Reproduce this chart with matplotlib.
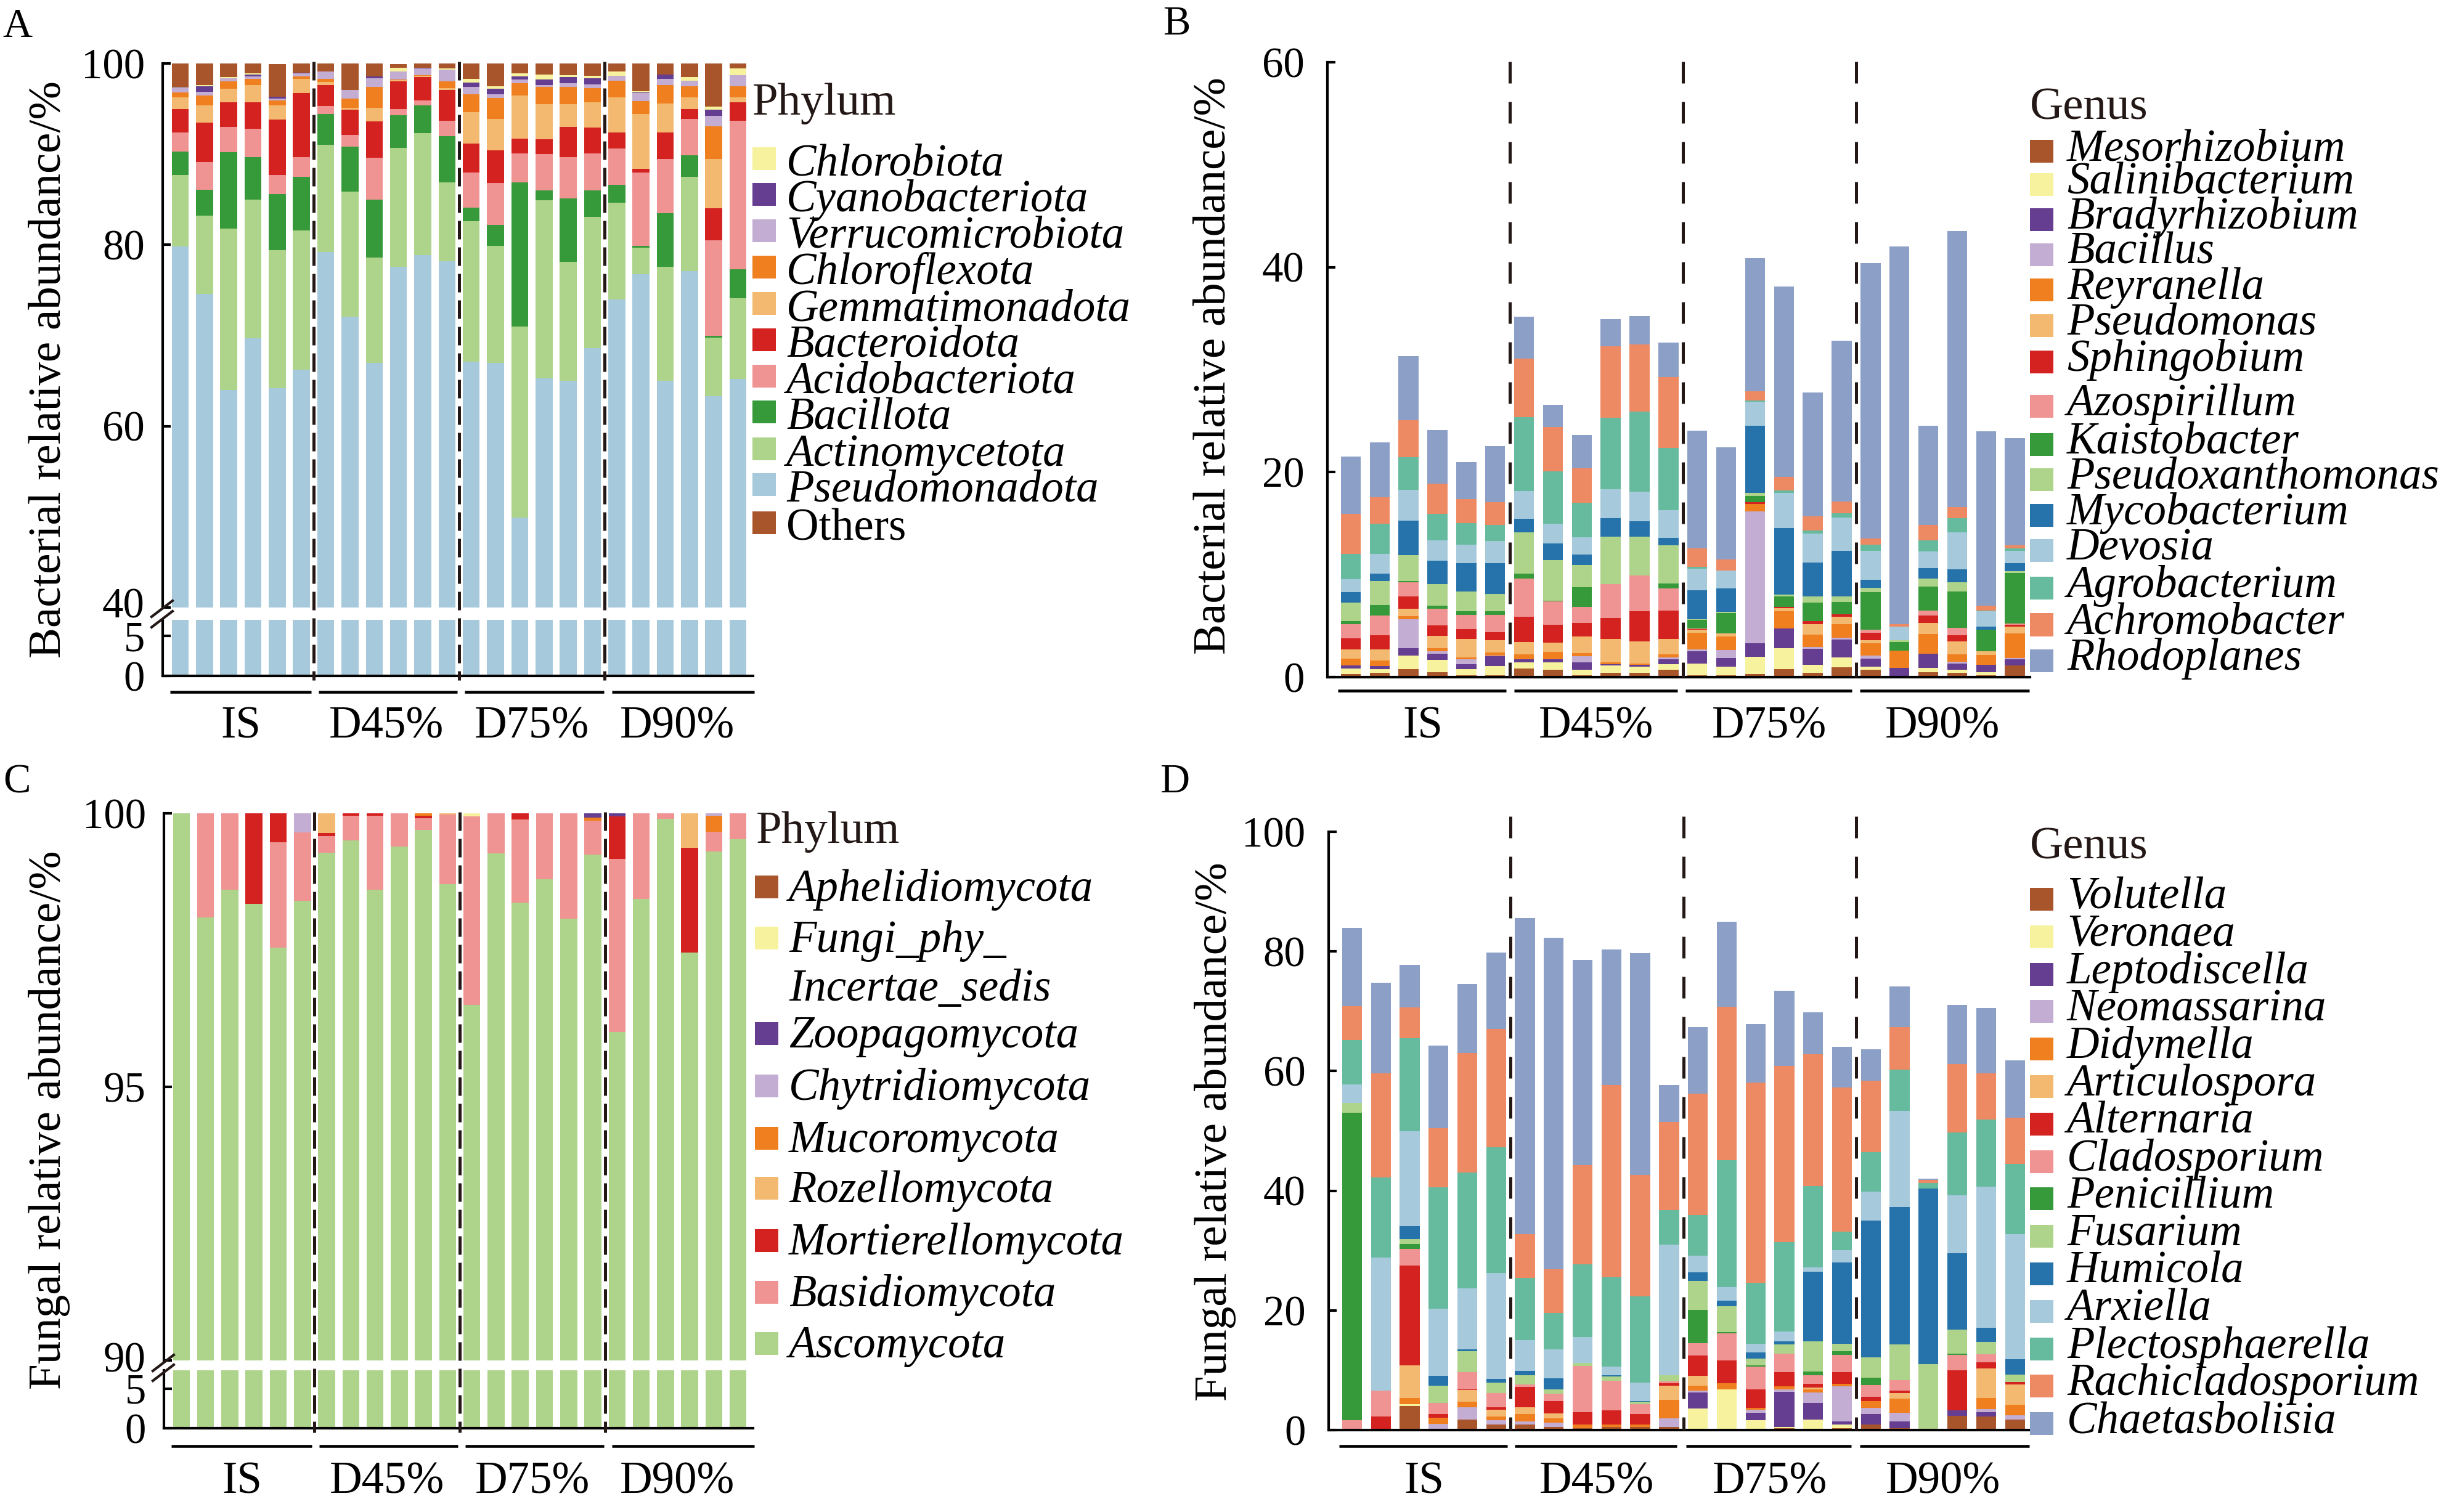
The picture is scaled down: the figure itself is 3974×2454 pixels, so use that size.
import numpy as np
import matplotlib
matplotlib.use('Agg')
import matplotlib.pyplot as plt
from matplotlib.lines import Line2D
from matplotlib.patches import Rectangle
import matplotlib.transforms as mtransforms

plt.rcParams['font.family'] = ['Liberation Serif', 'DejaVu Serif']

# ---------------- data ----------------
groups = ['IS', 'D45%', 'D75%', 'D90%']
n_bars = 24

# A: bacterial phyla (%), stacked bottom -> top
a_pseudomonadota = [79.8, 74.6, 64.0, 69.7, 64.2, 66.2, 79.2, 72.1, 67.0, 77.6, 78.9, 78.2,
                    67.1, 67.0, 49.9, 65.3, 65.0, 68.6, 74.0, 76.75, 65.0, 77.1, 63.3, 65.2]
a_actinomycetota = [7.9, 8.6, 17.8, 15.3, 15.2, 15.4, 11.8, 13.8, 11.6, 13.1, 13.4, 8.7,
                    15.5, 12.9, 21.1, 19.6, 13.1, 14.5, 10.65, 2.95, 12.6, 10.4, 6.45, 8.9]
a_bacillota = [2.6, 2.9, 8.4, 4.7, 6.2, 5.9, 3.4, 4.9, 6.4, 3.6, 3.1, 5.1,
               1.5, 2.3, 15.9, 1.1, 7.0, 2.9, 1.95, 0.2, 5.9, 2.35, 0.25, 3.2]
a_acidobacteriota = [2.1, 3.0, 2.8, 3.1, 2.1, 2.2, 0.9, 1.3, 4.6, 0.65, 0.5, 1.7,
                     3.85, 4.6, 3.2, 4.0, 4.6, 4.1, 4.05, 8.1, 6.0, 4.05, 10.5, 16.4]
a_bacteroidota = [2.6, 4.4, 2.7, 2.9, 6.1, 7.05, 2.3, 2.8, 4.0, 3.1, 2.6, 3.4,
                  3.25, 3.6, 1.6, 1.65, 3.3, 2.8, 1.75, 0.35, 2.9, 1.05, 3.5, 2.0]
a_gemmatimonadota = [1.25, 1.9, 1.5, 1.9, 1.55, 1.55, 0.35, 0.2, 1.5, 0.1, 0.15, 0.2,
                     3.4, 3.5, 4.8, 3.85, 2.5, 2.8, 3.85, 6.1, 3.2, 1.3, 5.5, 0.55]
a_chloroflexota = [0.55, 1.1, 0.8, 0.7, 0.55, 0.25, 0.35, 1.0, 2.3, 0.1, 0.05, 0.7,
                   2.0, 2.3, 1.3, 1.9, 1.9, 1.6, 1.85, 1.4, 2.05, 1.25, 3.6, 1.25]
a_verrucomicrobiota = [0.5, 0.4, 0.4, 0.3, 0.2, 0.35, 0.8, 1.0, 1.0, 0.9, 0.75, 1.3,
                       0.8, 0.4, 0.4, 0.25, 0.4, 0.4, 0.55, 0.9, 0.65, 0.6, 1.1, 1.2]
a_cyanobacteriota = [0.05, 0.6, 0.0, 0.2, 0.2, 0.1, 0.0, 0.0, 0.2, 0.0, 0.05, 0.0,
                     0.5, 0.6, 0.35, 0.55, 0.7, 0.7, 0.0, 0.05, 0.45, 0.0, 0.7, 0.0]
a_chlorobiota = [0.1, 0.1, 0.1, 0.1, 0.0, 0.0, 0.0, 0.0, 0.0, 0.35, 0.05, 0.15,
                 0.4, 0.3, 0.35, 0.6, 0.2, 0.25, 0.45, 0.15, 0.0, 0.4, 0.35, 0.75]
a_others = [2.6, 2.4, 1.5, 1.1, 3.6, 1.0, 0.9, 2.9, 1.4, 0.45, 0.6, 0.55,
            1.7, 2.5, 1.1, 1.2, 1.3, 1.35, 0.9, 3.1, 1.25, 1.5, 4.75, 0.55]

# B: bacterial genera (%), stacked bottom -> top
b_mesorhizobium = [0.3, 0.4, 0.8, 0.5, 0.2, 0.2, 0.85, 0.7, 0.2, 0.45, 0.45, 0.7,
                   0.2, 0.2, 0.3, 0.8, 0.45, 0.95, 0.7, 0.1, 0.5, 0.4, 0.2, 1.15]
b_salinibacterium = [0.55, 0.4, 1.3, 1.2, 0.6, 0.9, 0.6, 0.75, 0.5, 0.7, 0.6, 0.55,
                     1.1, 0.85, 1.7, 2.05, 0.75, 1.0, 0.3, 0.0, 0.4, 0.3, 0.3, 0.0]
b_bradyrhizobium = [0.3, 0.3, 0.7, 0.6, 0.45, 0.95, 0.3, 0.3, 0.75, 0.1, 0.15, 0.5,
                    1.2, 0.8, 1.3, 1.9, 1.55, 1.7, 0.8, 0.8, 1.4, 0.6, 0.7, 0.6]
b_bacillus = [0.0, 0.0, 2.85, 0.2, 0.5, 0.05, 0.0, 0.0, 0.6, 0.0, 0.0, 0.2,
              0.2, 0.8, 12.85, 0.0, 0.2, 0.2, 0.3, 0.0, 0.0, 0.2, 0.0, 0.1]
b_reyranella = [0.65, 0.5, 0.3, 0.3, 0.2, 0.3, 0.5, 0.7, 0.3, 0.2, 0.1, 0.3,
                1.6, 1.3, 0.75, 1.7, 1.2, 1.35, 1.2, 1.7, 1.9, 0.7, 0.95, 2.4]
b_pseudomonas = [0.9, 1.1, 0.7, 1.25, 1.8, 1.2, 1.2, 0.9, 1.6, 2.3, 2.2, 1.45,
                 0.3, 0.3, 0.0, 0.3, 1.0, 0.7, 0.3, 0.0, 1.1, 1.3, 0.4, 0.65]
b_sphingobium = [1.1, 1.4, 1.25, 1.0, 0.95, 0.8, 2.45, 1.75, 1.35, 2.0, 2.95, 2.8,
                 0.1, 0.0, 0.2, 0.1, 0.3, 0.25, 0.7, 0.0, 0.7, 0.6, 0.0, 0.2]
b_azospirillum = [1.4, 1.9, 1.35, 1.6, 1.4, 1.7, 3.7, 2.3, 1.55, 3.3, 3.45, 2.15,
                  0.05, 0.0, 0.0, 0.0, 0.05, 0.0, 0.3, 0.0, 0.5, 0.7, 0.0, 0.15]
b_kaistobacter = [0.3, 1.05, 0.15, 0.35, 0.35, 0.35, 0.5, 0.05, 1.95, 0.05, 0.0, 0.5,
                  0.85, 2.0, 0.6, 1.0, 1.8, 1.2, 3.7, 0.85, 2.35, 3.55, 2.1, 4.9]
b_pseudoxanthomonas = [1.8, 2.3, 2.5, 2.05, 1.9, 1.65, 4.05, 4.0, 2.15, 4.6, 3.8, 3.7,
                       0.05, 0.1, 0.25, 0.2, 0.6, 0.5, 0.4, 0.15, 0.75, 0.9, 0.0, 0.2]
b_mycobacterium = [1.0, 0.75, 3.4, 2.3, 2.8, 3.0, 1.3, 1.6, 1.0, 1.8, 1.5, 0.75,
                   2.8, 2.3, 6.55, 6.5, 3.3, 4.45, 0.8, 0.0, 1.05, 1.25, 0.3, 0.75]
b_devosia = [1.25, 1.9, 2.95, 2.0, 1.8, 2.2, 2.7, 1.95, 1.7, 2.85, 2.9, 2.7,
             2.15, 1.75, 2.4, 3.4, 2.8, 3.3, 2.8, 1.35, 1.6, 3.6, 1.5, 1.2]
b_agrobacterium = [2.5, 2.95, 3.2, 2.6, 2.1, 1.55, 7.25, 5.1, 3.35, 6.95, 7.8, 6.05,
                   0.15, 0.0, 0.1, 0.25, 0.3, 0.4, 0.6, 0.0, 1.1, 1.4, 0.05, 0.25]
b_achromobacter = [3.9, 2.6, 3.65, 2.9, 2.3, 2.25, 5.7, 4.3, 3.4, 7.0, 6.55, 6.95,
                   1.8, 1.1, 0.9, 1.35, 1.4, 1.15, 0.6, 0.2, 1.5, 1.1, 0.5, 0.3]
b_rhodoplanes = [5.6, 5.35, 6.25, 5.25, 3.65, 5.45, 4.1, 2.2, 3.25, 2.6, 2.8, 3.35,
                 11.5, 10.9, 13.0, 18.55, 12.05, 15.7, 26.9, 36.9, 9.65, 26.95, 17.0, 10.5]

# C: fungal phyla (%), stacked bottom -> top
c_ascomycota = [100.0, 98.1, 98.6, 98.35, 97.55, 98.4, 99.28, 99.5, 98.6, 99.39, 99.7, 98.7,
                96.5, 99.27, 98.37, 98.79, 98.07, 99.25, 96.0, 98.43, 99.9, 97.45, 99.3, 99.53]
c_basidiomycota = [0.0, 1.9, 1.4, 0.0, 1.92, 1.25, 0.3, 0.45, 1.35, 0.61, 0.21, 1.28,
                   3.44, 0.73, 1.52, 1.21, 1.93, 0.62, 3.17, 1.57, 0.1, 0.0, 0.36, 0.47]
c_mortierellomycota = [0, 0, 0, 1.65, 0.53, 0, 0.06, 0.05, 0.05, 0, 0.05, 0,
                       0, 0, 0.11, 0, 0, 0, 0.77, 0, 0, 1.92, 0, 0]
c_rozellomycota = [0, 0, 0, 0, 0, 0, 0.36, 0, 0, 0, 0, 0.02,
                   0, 0, 0, 0, 0, 0, 0, 0, 0, 0.63, 0, 0]
c_mucoromycota = [0, 0, 0, 0, 0, 0, 0, 0, 0, 0, 0.04, 0,
                  0, 0, 0, 0, 0, 0.05, 0, 0, 0, 0, 0.29, 0]
c_chytridiomycota = [0, 0, 0, 0, 0, 0.35, 0, 0, 0, 0, 0, 0,
                     0, 0, 0, 0, 0, 0, 0, 0, 0, 0, 0.05, 0]
c_zoopagomycota = [0, 0, 0, 0, 0, 0, 0, 0, 0, 0, 0, 0,
                   0, 0, 0, 0, 0, 0.08, 0.06, 0, 0, 0, 0, 0]
c_incertae = [0, 0, 0, 0, 0, 0, 0, 0, 0, 0, 0, 0,
              0.06, 0, 0, 0, 0, 0, 0, 0, 0, 0, 0, 0]
c_aphelidiomycota = [0] * 24

# D: fungal genera (%), stacked bottom -> top
d_volutella = [0, 0.2, 4.0, 0, 1.7, 0.9, 0.9, 0.55, 0.35, 0.55, 0.55, 0.55,
               0, 0, 0, 0.35, 0, 0.35, 0.9, 0.35, 0, 2.4, 2.3, 1.75]
d_veronaea = [0, 0, 0.35, 0, 0, 0, 0, 0, 0, 0, 0, 0,
              3.65, 6.75, 1.6, 0.2, 1.8, 0.55, 0, 0, 0, 0, 0, 0]
d_leptodiscella = [0, 0, 0, 0, 0, 0, 0, 0, 0, 0, 0, 0,
                   2.6, 0, 1.25, 5.85, 2.7, 0.5, 1.75, 1.1, 0, 0.9, 0.7, 0]
d_neomassarina = [0, 0, 0, 1.05, 2.1, 0.7, 0.55, 0.7, 0, 0, 0, 1.4,
                  0.3, 0, 0.5, 0.35, 1.8, 5.95, 1.05, 1.45, 0, 0, 0.55, 0.7]
d_didymella = [0, 0, 1.05, 1.05, 0.9, 0.7, 1.2, 0.7, 0.55, 0.35, 0.35, 3.1,
               0.9, 1.05, 0.35, 0.55, 0.5, 0.35, 1.15, 2.4, 0, 0, 1.85, 1.75]
d_articulospora = [0, 0, 5.4, 0, 1.95, 1.15, 1.15, 0.85, 0, 0, 0, 2.4,
                   1.6, 0, 0, 0, 0.35, 0, 0, 0.9, 0, 0, 4.85, 3.45]
d_alternaria = [0, 2.05, 16.7, 0.55, 0.1, 0.35, 3.45, 2.05, 2.05, 2.4, 1.75, 0.35,
                3.4, 3.8, 3.1, 2.4, 0.55, 2.0, 0.7, 0.35, 0, 6.7, 1.05, 0.4]
d_cladosporium = [1.6, 4.35, 2.75, 1.85, 2.9, 2.4, 0.35, 1.25, 7.8, 4.95, 1.7, 0.35,
                  2.05, 4.6, 3.8, 3.1, 1.5, 2.85, 1.95, 1.75, 0, 2.6, 1.4, 0]
d_penicillium = [51.45, 0, 0.9, 0, 0, 0, 0, 0, 0, 0, 0, 0,
                 5.6, 0.2, 0.2, 0, 0.55, 0.6, 1.25, 0, 0, 0.2, 0, 0]
d_fusarium = [1.6, 0, 0.8, 2.95, 3.5, 1.75, 1.6, 0.7, 0.5, 0.75, 0.35, 1.05,
              4.85, 4.35, 1.15, 1.5, 5.1, 1.25, 3.4, 6.0, 11.05, 3.95, 2.05, 1.2]
d_humicola = [0, 0, 2.1, 1.6, 0.3, 0.55, 0.7, 1.85, 0, 0.15, 0.15, 0,
              1.4, 0.85, 1.05, 0.5, 11.6, 13.65, 22.85, 22.95, 29.35, 12.8, 2.3, 2.6]
d_arxiella = [3.1, 22.25, 15.9, 11.2, 10.2, 17.8, 5.15, 4.85, 4.3, 1.5, 3.1, 21.75,
              2.75, 2.3, 1.4, 1.7, 0.7, 2.05, 4.85, 16.1, 0, 9.65, 23.6, 20.85]
d_plectosphaerella = [7.45, 13.4, 15.55, 20.35, 19.35, 21.0, 10.35, 6.1, 12.15, 14.85, 14.35, 5.85,
                      6.85, 21.2, 10.2, 14.9, 13.65, 3.05, 6.55, 6.9, 0.9, 10.5, 11.25, 11.75]
d_rachicladosporium = [5.65, 17.35, 5.2, 9.9, 20.0, 19.75, 7.4, 7.25, 16.55, 32.2, 20.35, 14.7,
                       20.25, 25.7, 33.5, 29.5, 22.0, 24.15, 12.0, 7.1, 0.5, 11.45, 7.75, 7.75]
d_chaetasbolisia = [13.05, 15.2, 7.05, 13.8, 11.55, 12.8, 52.8, 55.45, 34.3, 22.6, 37.1, 6.2,
                    11.2, 14.15, 9.8, 12.5, 7.0, 6.75, 5.2, 6.75, 0.2, 9.95, 10.85, 9.55]

# ---------------- colours ----------------
BROWN, YELLOW, PURPLE, LAV = '#A9552B', '#F6F29E', '#653D91', '#C3ADD3'
ORANGE, LORANGE, RED, PINK = '#EF7F1F', '#F3B970', '#D42221', '#EF9393'
GREEN, LGREEN, BLUE, LBLUE = '#379A3A', '#AED38A', '#2673AB', '#A6CADC'
TEAL, SALMON, SLATE = '#66BA9E', '#EE8A63', '#8B9FC7'
INK = '#231815'

a_names = ['Pseudomonadota', 'Actinomycetota', 'Bacillota', 'Acidobacteriota', 'Bacteroidota',
           'Gemmatimonadota', 'Chloroflexota', 'Verrucomicrobiota', 'Cyanobacteriota',
           'Chlorobiota', 'Others']
a_series = [a_pseudomonadota, a_actinomycetota, a_bacillota, a_acidobacteriota, a_bacteroidota,
            a_gemmatimonadota, a_chloroflexota, a_verrucomicrobiota, a_cyanobacteriota,
            a_chlorobiota, a_others]
a_colors = [LBLUE, LGREEN, GREEN, PINK, RED, LORANGE, ORANGE, LAV, PURPLE, YELLOW, BROWN]

b_names = ['Mesorhizobium', 'Salinibacterium', 'Bradyrhizobium', 'Bacillus', 'Reyranella',
           'Pseudomonas', 'Sphingobium', 'Azospirillum', 'Kaistobacter', 'Pseudoxanthomonas',
           'Mycobacterium', 'Devosia', 'Agrobacterium', 'Achromobacter', 'Rhodoplanes']
b_series = [b_mesorhizobium, b_salinibacterium, b_bradyrhizobium, b_bacillus, b_reyranella,
            b_pseudomonas, b_sphingobium, b_azospirillum, b_kaistobacter, b_pseudoxanthomonas,
            b_mycobacterium, b_devosia, b_agrobacterium, b_achromobacter, b_rhodoplanes]
genus_colors = [BROWN, YELLOW, PURPLE, LAV, ORANGE, LORANGE, RED, PINK, GREEN, LGREEN,
                BLUE, LBLUE, TEAL, SALMON, SLATE]

c_names = ['Ascomycota', 'Basidiomycota', 'Mortierellomycota', 'Rozellomycota', 'Mucoromycota',
           'Chytridiomycota', 'Zoopagomycota', 'Fungi_phy_Incertae_sedis', 'Aphelidiomycota']
c_series = [c_ascomycota, c_basidiomycota, c_mortierellomycota, c_rozellomycota, c_mucoromycota,
            c_chytridiomycota, c_zoopagomycota, c_incertae, c_aphelidiomycota]
c_colors = [LGREEN, PINK, RED, LORANGE, ORANGE, LAV, PURPLE, YELLOW, BROWN]

d_names = ['Volutella', 'Veronaea', 'Leptodiscella', 'Neomassarina', 'Didymella', 'Articulospora',
           'Alternaria', 'Cladosporium', 'Penicillium', 'Fusarium', 'Humicola', 'Arxiella',
           'Plectosphaerella', 'Rachicladosporium', 'Chaetasbolisia']
d_series = [d_volutella, d_veronaea, d_leptodiscella, d_neomassarina, d_didymella, d_articulospora,
            d_alternaria, d_cladosporium, d_penicillium, d_fusarium, d_humicola, d_arxiella,
            d_plectosphaerella, d_rachicladosporium, d_chaetasbolisia]

# ---------------- figure ----------------
W, H = 3974, 2454
fig = plt.figure(figsize=(W / 300, H / 300), dpi=300)


def fx(px):
    return px / W


def fy(py):
    return 1 - py / H


def box(x0, y0, x1, y1):
    return fig.add_axes([fx(x0), fy(y1), (x1 - x0) / W, (y1 - y0) / H])


x = np.arange(n_bars)


def stack(ax, series, cols, width):
    bottom = np.zeros(n_bars)
    for vals, c in zip(series, cols):
        vals = np.array(vals, dtype=float)
        ax.bar(x, vals, bottom=bottom, width=width, color=c, linewidth=0)
        bottom += vals


def style(ax, xlim, ylim, yticks, bottom=True, pad=7):
    ax.set_xlim(*xlim)
    ax.set_ylim(*ylim)
    ax.set_facecolor('none')
    for s in ['top', 'right']:
        ax.spines[s].set_visible(False)
    ax.spines['left'].set_linewidth(1.0)
    ax.spines['bottom'].set_linewidth(1.0)
    ax.spines['bottom'].set_visible(bottom)
    ax.set_xticks([])
    ax.set_yticks(yticks)
    ax.set_yticklabels([str(t) for t in yticks])
    ax.tick_params(axis='y', direction='in', length=3, width=1.0, labelsize=16.5,
                   pad=pad, colors='black')


def lift_first_label(ax, px):
    # nudge the lowest tick label of a broken axis upward, as in the original
    lab = ax.get_yticklabels()[0]
    lab.set_transform(lab.get_transform() +
                      mtransforms.ScaledTranslation(0, px / 300, fig.dpi_scale_trans))


def fig_line(xs, ys, **kw):
    fig.add_artist(Line2D([fx(v) for v in xs], [fy(v) for v in ys],
                          transform=fig.transFigure, color=INK, **kw))


def dashes(ax, y_top, y_bot, pattern):
    tr = mtransforms.blended_transform_factory(ax.transData, fig.transFigure)
    for xb in [5.5, 11.5, 17.5]:
        fig.add_artist(Line2D([xb, xb], [fy(y_top), fy(y_bot)], transform=tr, color=INK,
                              lw=1.2, linestyle=(0, pattern)))


def group_labels(ax, y_line, y_lab, segs):
    tr = mtransforms.blended_transform_factory(ax.transData, fig.transFigure)
    for (s0, s1) in segs:
        fig.add_artist(Line2D([s0, s1], [fy(y_line), fy(y_line)], transform=tr,
                              color='black', lw=1.1, solid_capstyle='butt'))
    for i, g in enumerate(groups):
        ax.text(2.5 + 6 * i, fy(y_lab), g, transform=tr, fontsize=17.5,
                ha='center', va='center')


def legend(title, title_xy, names, cols, sq_x, txt_x, sq_tops, base_off, italic_flags):
    fig.text(fx(title_xy[0]), fy(title_xy[1]), title, fontsize=18, color=INK,
             ha='left', va='baseline')
    for name, c, top, it in zip(names, cols, sq_tops, italic_flags):
        fig.add_artist(Rectangle((fx(sq_x), fy(top + 37)), 38 / W, 37 / H,
                                 transform=fig.transFigure, facecolor=c, edgecolor='none'))
        fig.text(fx(txt_x), fy(top + base_off), name, fontsize=17.5,
                 fontstyle='italic' if it else 'normal', ha='left', va='baseline')


def break_marks(x0, y_a, y_b):
    for yy in (y_a, y_b):
        fig_line([x0 - 18, x0 + 16], [yy + 13, yy - 13], lw=1.0)


# ---------- panel A ----------
xlim_ac = (-0.724, 23.62)
axA = box(264, 103, 1222, 986)
axA_low = box(264, 1006, 1222, 1097)
for ax in (axA, axA_low):
    stack(ax, a_series, a_colors, 0.7)
style(axA, xlim_ac, (40, 100), [40, 60, 80, 100], bottom=False)
style(axA_low, xlim_ac, (0, 7), [0, 5])
lift_first_label(axA, 8)
dashes(axA, 100, 1104, (6, 2.6))
break_marks(264, 988, 1005)
group_labels(axA_low, 1123, 1180, [(-0.42, 5.4), (5.7, 11.42), (11.73, 17.47), (17.8, 23.67)])
fig.text(fx(80), fy(600), 'Bacterial relative abundance/%', rotation=90, fontsize=18,
         ha='center', va='center')

a_legend_names = a_names[-2::-1] + ['Others']
a_legend_cols = a_colors[-2::-1] + [BROWN]
legend('Phylum', (1221, 186), a_legend_names, a_legend_cols, 1221, 1276,
       [238.7, 296.9, 356.2, 414.9, 474.2, 532.9, 591.6, 650.4, 709.6, 767.8, 830.3], 46,
       [True] * 10 + [False])

# ---------- panel B ----------
xlim_bd = (-0.81, 23.52)
axB = box(2154, 101, 3294, 1099)
stack(axB, b_series, genus_colors, 0.69)
style(axB, xlim_bd, (0, 60), [0, 20, 40, 60], pad=9)
dashes(axB, 100, 1099, (7, 6))
group_labels(axB, 1121, 1180, [(-0.45, 5.38), (5.65, 11.32), (11.6, 17.35), (17.63, 23.5)])
fig.text(fx(1970), fy(594), 'Bacterial relative abundance/%', rotation=90, fontsize=18,
         ha='center', va='center')
b_tops = [227.3, 280.8, 337.8, 394.7, 451.6, 509.9, 568.9, 641.2, 702.8, 759.7, 818.1,
          875.0, 935.9, 995.5, 1054.4]
legend('Genus', (3294, 194), b_names, genus_colors, 3294, 3354, b_tops, 33, [True] * 15)

# ---------- panel C ----------
axC = box(266, 1320, 1222, 2208)
axC_low = box(266, 2224, 1222, 2318)
for ax in (axC, axC_low):
    stack(ax, c_series, c_colors, 0.7)
style(axC, xlim_ac, (90, 100), [90, 95, 100], bottom=False)
style(axC_low, xlim_ac, (0, 7.3), [0, 5])
lift_first_label(axC, 6)
dashes(axC, 1318, 2325, (6, 2.6))
break_marks(266, 2212, 2228)
group_labels(axC_low, 2347, 2406, [(-0.42, 5.4), (5.7, 11.42), (11.73, 17.47), (17.8, 23.67)])
fig.text(fx(80), fy(1818), 'Fungal relative abundance/%', rotation=90, fontsize=18,
         ha='center', va='center')

c_legend_names = ['Aphelidiomycota', 'Fungi_phy_', 'Zoopagomycota', 'Chytridiomycota',
                  'Mucoromycota', 'Rozellomycota', 'Mortierellomycota', 'Basidiomycota',
                  'Ascomycota']
c_tops = [1420.6, 1504.2, 1658.8, 1743.6, 1828.5, 1910.3, 1995.2, 2078.8, 2161.8]
legend('Phylum', (1227, 1368), c_legend_names, c_colors[::-1], 1225, 1280, c_tops, 41,
       [True] * 9)
fig.text(fx(1280), fy(1624), 'Incertae_sedis', fontsize=17.5, fontstyle='italic',
         ha='left', va='baseline')

# ---------- panel D ----------
axD = box(2156, 1350, 3294, 2321)
stack(axD, d_series, genus_colors, 0.69)
style(axD, xlim_bd, (0, 100), [0, 20, 40, 60, 80, 100], pad=9)
dashes(axD, 1325, 2321, (7, 6))
group_labels(axD, 2347, 2406, [(-0.45, 5.38), (5.65, 11.27), (11.59, 17.31), (17.61, 23.5)])
fig.text(fx(1972), fy(1837), 'Fungal relative abundance/%', rotation=90, fontsize=18,
         ha='center', va='center')
d_tops = [1441 + 60.8 * i for i in range(15)]
legend('Genus', (3294, 1393), d_names, genus_colors, 3294, 3354, d_tops, 33, [True] * 15)

# ---------- panel letters ----------
for letter, (px, py) in zip('ABCD', [(28, 43), (1909, 40), (28, 1270), (1906, 1270)]):
    fig.text(fx(px), fy(py), letter, fontsize=16, ha='center', va='center')

fig.savefig('out.png', dpi=300)
